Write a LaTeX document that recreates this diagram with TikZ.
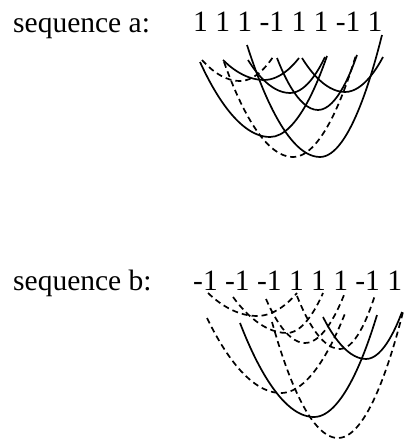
\documentclass[tikz,border=0pt]{standalone}
\usepackage{fontspec}
\setmainfont{Liberation Serif}

\begin{document}
\begin{tikzpicture}[x=1pt,y=-1pt,
		seqtext/.style={anchor=base west,inner sep=0pt,font=\fontsize{29.5}{35}\selectfont},
		poscurve/.style={line width=1.7pt},
		negcurve/.style={line width=1.7pt,dash pattern=on 6pt off 4pt}]
	\useasboundingbox (0,0) rectangle (404,441);
	
	% feliratok
	\node[seqtext] (namea) at (13,33) {sequence a:};
	\node[seqtext] (seqa) at (193,32) {1 1 1 -1 1 1 -1 1};
	\node[seqtext] (nameb) at (13,290) {sequence b:};
	\node[seqtext] (seqb) at (193,290) {-1 -1 -1 1 1 1 -1 1};
	
	% a: lag 3
	\draw[negcurve] (202,60) parabola bend (240,81) (273,57);
	\draw[poscurve] (223,60) parabola bend (264,80) (299,58);
	\draw[poscurve] (248,60) parabola bend (290,93) (325,57);
	\draw[poscurve] (277,58) parabola bend (318,110) (357,55);
	\draw[poscurve] (302,58) parabola bend (345,92) (383,57);
	
	% a: lag 5
	\draw[poscurve] (200,62) parabola bend (270,137) (327,56);
	\draw[negcurve] (224,62) parabola bend (293,157) (356,55);
	\draw[poscurve] (247,45) parabola bend (320,157) (382,35);
	
	% b: lag 3
	\draw[negcurve] (208,293) parabola bend (257,316) (297,293);
	\draw[negcurve] (233,297) parabola bend (287,333) (323,293);
	\draw[negcurve] (266,299) parabola bend (305,343) (344,295);
	\draw[negcurve] (297,296) parabola bend (340,349) (375,295);
	\draw[poscurve] (323,317) parabola bend (366,359) (402,312);
	
	% b: lag 5
	\draw[negcurve] (207,318) parabola bend (281,393) (346,311);
	\draw[poscurve] (240,323) parabola bend (314,417) (377,315);
	\draw[negcurve] (272,322) parabola bend (338,438) (403,312);
	
\end{tikzpicture}
\end{document}
